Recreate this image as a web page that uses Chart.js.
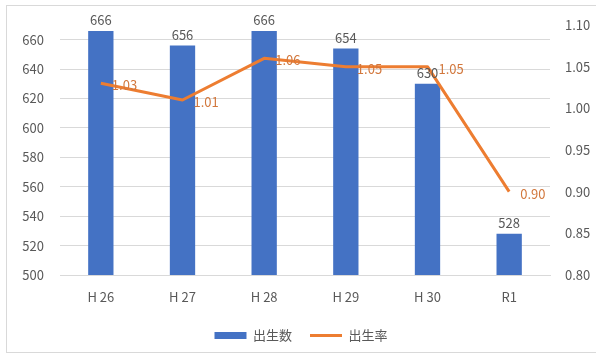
<!DOCTYPE html>
<html lang="ja">
<head>
<meta charset="utf-8">
<script src="https://cdn.jsdelivr.net/npm/chart.js@4/dist/chart.umd.min.js"></script>
<style>
  html, body { margin: 0; padding: 0; background: #ffffff; }
  #wrap { width: 596px; height: 356px; }
</style>
</head>
<body>
<div id="wrap"><canvas id="c" width="596" height="356"></canvas></div>
<script>
// 年度
const categories = ['H 26', 'H 27', 'H 28', 'H 29', 'H 30', 'R1'];
// 出生数（人）
const births = [666, 656, 666, 654, 630, 528];
// 出生率
const birthRates = [1.03, 1.01, 1.06, 1.05, 1.05, 0.90];
// 凡例
const seriesNames = ['出生数', '出生率'];

const FONT = "'Noto Sans CJK JP', 'Open Sans', sans-serif";
const BLUE = '#4472C4';
const ORANGE = '#ED7D31';
const GRAY_TEXT = '#595959';
const GRID = '#D9D9D9';

// Light frame around the chart
const framePlugin = {
  id: 'frame',
  beforeDraw(chart) {
    const ctx = chart.ctx;
    ctx.save();
    ctx.strokeStyle = GRID;
    ctx.lineWidth = 1;
    ctx.strokeRect(6.5, 5.5, 620, 347);
    ctx.restore();
  }
};

// Value labels above the bars and to the right of the line points
const valueLabels = {
  id: 'valueLabels',
  afterDatasetsDraw(chart) {
    const ctx = chart.ctx;
    ctx.save();
    ctx.font = '13px ' + FONT;
    const barMeta = chart.getDatasetMeta(0);
    ctx.fillStyle = GRAY_TEXT;
    ctx.textAlign = 'center';
    ctx.textBaseline = 'bottom';
    barMeta.data.forEach((el, i) => {
      ctx.fillText(String(births[i]), el.x, el.y - 4);
    });
    const lineMeta = chart.getDatasetMeta(1);
    ctx.fillStyle = '#D2773C';
    ctx.textAlign = 'left';
    ctx.textBaseline = 'middle';
    lineMeta.data.forEach((el, i) => {
      ctx.fillText(birthRates[i].toFixed(2), el.x + 11, el.y + 2);
    });
    ctx.restore();
  }
};

new Chart(document.getElementById('c'), {
  type: 'bar',
  data: {
    labels: categories,
    datasets: [
      {
        type: 'bar',
        label: seriesNames[0],
        data: births,
        backgroundColor: BLUE,
        yAxisID: 'y',
        barPercentage: 0.31,
        categoryPercentage: 1.0,
        order: 2
      },
      {
        type: 'line',
        label: seriesNames[1],
        data: birthRates,
        borderColor: ORANGE,
        backgroundColor: ORANGE,
        borderWidth: 3,
        pointRadius: 0,
        tension: 0,
        borderJoinStyle: 'round',
        yAxisID: 'y1',
        order: 1
      }
    ]
  },
  options: {
    responsive: false,
    animation: false,
    devicePixelRatio: 1,
    layout: { padding: { left: 6, right: 0, top: 25, bottom: 4 } },
    plugins: {
      tooltip: { enabled: false },
      legend: {
        position: 'bottom',
        labels: {
          usePointStyle: true,
          pointStyleWidth: 32,
          boxHeight: 7,
          padding: 18,
          color: GRAY_TEXT,
          font: { family: FONT, size: 13 },
          generateLabels(chart) {
            return chart.data.datasets.map((ds, i) => ({
              text: ds.label,
              datasetIndex: i,
              fillStyle: i === 0 ? BLUE : ORANGE,
              strokeStyle: i === 0 ? BLUE : ORANGE,
              lineWidth: i === 0 ? 0 : 3,
              pointStyle: i === 0 ? 'rect' : 'line',
              fontColor: GRAY_TEXT,
              hidden: false
            }));
          }
        }
      }
    },
    scales: {
      x: {
        grid: { display: false, drawTicks: false },
        border: { display: true, color: GRID },
        ticks: { color: GRAY_TEXT, font: { family: FONT, size: 13 }, padding: 14 },
        afterFit(scale) { scale.height = 36; }
      },
      y: {
        position: 'left',
        min: 500,
        max: 670,
        grid: { color: GRID, drawTicks: false },
        border: { display: false },
        ticks: {
          stepSize: 20,
          color: GRAY_TEXT,
          font: { family: FONT, size: 13 },
          padding: 16
        },
        afterBuildTicks(scale) {
          scale.ticks = scale.ticks.filter(t => t.value <= 660);
        },
        afterFit(scale) { scale.width = 54; }
      },
      y1: {
        position: 'right',
        min: 0.8,
        max: 1.1,
        grid: { display: false, drawTicks: false },
        border: { display: false },
        ticks: {
          stepSize: 0.05,
          color: GRAY_TEXT,
          font: { family: FONT, size: 13 },
          padding: 15,
          callback: v => Number(v).toFixed(2)
        },
        afterFit(scale) { scale.width = 46; }
      }
    }
  },
  plugins: [framePlugin, valueLabels]
});
</script>
</body>
</html>
